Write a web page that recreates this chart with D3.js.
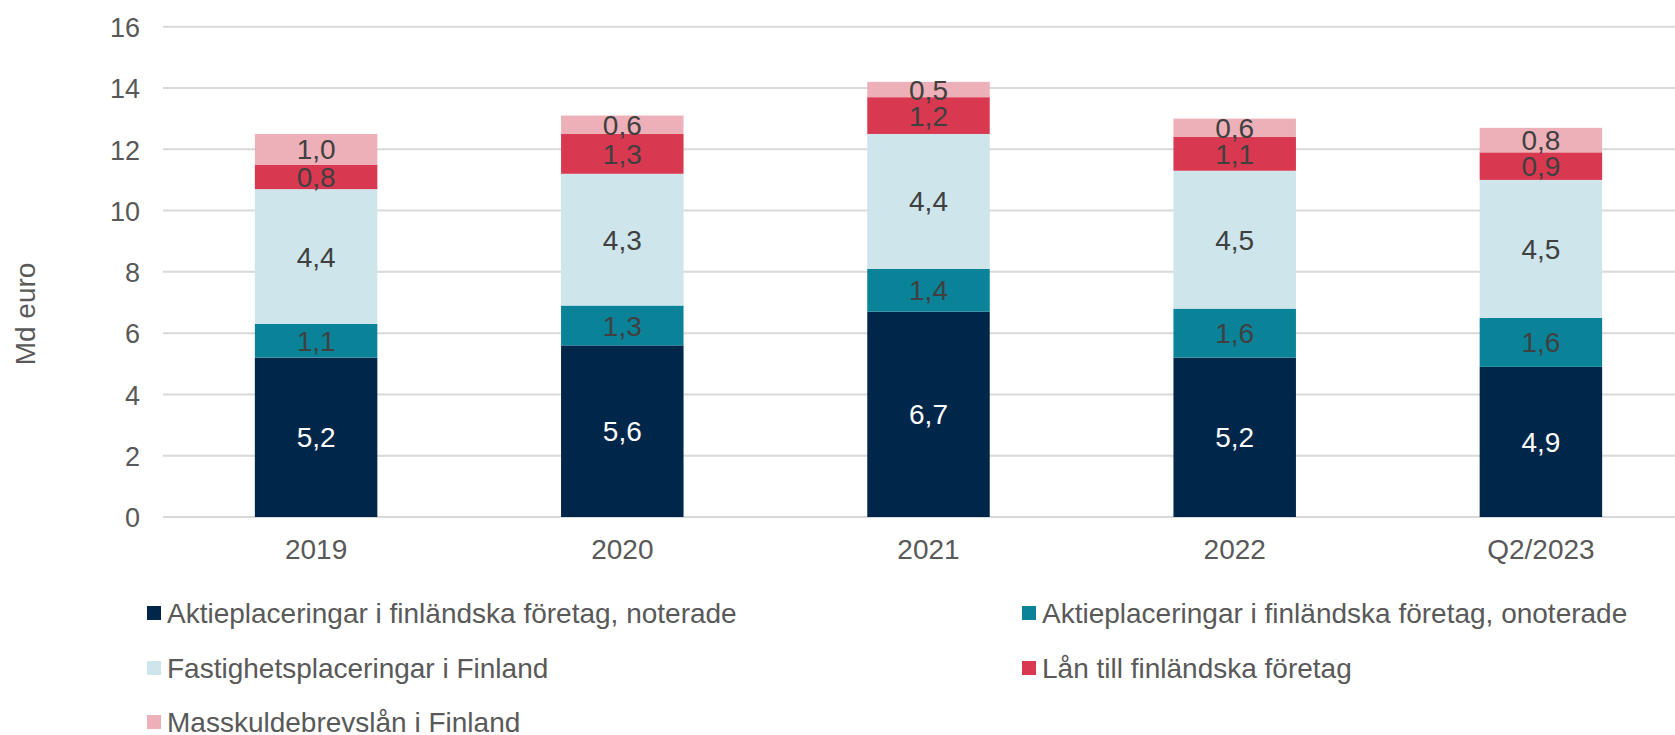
<!DOCTYPE html>
<html>
<head>
<meta charset="utf-8">
<script src="https://cdn.jsdelivr.net/npm/d3@7"></script>
<style>
  html, body { margin: 0; padding: 0; background: #ffffff; }
  svg { display: block; font-family: "Liberation Sans", Arial, sans-serif; }
</style>
</head>
<body>
<svg id="chart" width="1675" height="735"></svg>
<script>
// Categories (x axis)
const categories = ["2019", "2020", "2021", "2022", "Q2/2023"];

// Series values, Md euro
const noterade   = [5.2, 5.6, 6.7, 5.2, 4.9];
const onoterade  = [1.1, 1.3, 1.4, 1.6, 1.6];
const fastighet  = [4.4, 4.3, 4.4, 4.5, 4.5];
const lan        = [0.8, 1.3, 1.2, 1.1, 0.9];
const masskuld   = [1.0, 0.6, 0.5, 0.6, 0.8];

const seriesNames = [
  "Aktieplaceringar i finländska företag, noterade",
  "Aktieplaceringar i finländska företag, onoterade",
  "Fastighetsplaceringar i Finland",
  "Lån till finländska företag",
  "Masskuldebrevslån i Finland"
];
const seriesColors = ["#002649", "#0A8399", "#CDE5EB", "#D93950", "#EEB0B8"];
const labelColors  = ["#ffffff", "#404040", "#404040", "#404040", "#404040"];

// Y axis ticks
const yTicks = [0, 2, 4, 6, 8, 10, 12, 14, 16];
const yTitle = "Md euro";

const seriesValues = [noterade, onoterade, fastighet, lan, masskuld];
const keys = seriesNames;
const rows = categories.map((c, i) => {
  const r = { category: c };
  keys.forEach((k, j) => { r[k] = seriesValues[j][i]; });
  return r;
});

const svg = d3.select("#chart");
const W = 1675;

const x = d3.scaleBand()
  .domain(categories)
  .range([163, 1694])
  .paddingInner(0.6)
  .paddingOuter(0.3);

const y = d3.scaleLinear().domain([0, 16]).range([517, 26.7]);

const fi = d3.formatLocale({ decimal: ",", thousands: " ", grouping: [3], currency: ["", " €"] });
const fmt = fi.format(".1f");

// Gridlines
svg.append("g")
  .selectAll("line")
  .data(yTicks)
  .join("line")
  .attr("x1", 163)
  .attr("x2", W)
  .attr("y1", d => y(d))
  .attr("y2", d => y(d))
  .attr("stroke", "#d9d9d9")
  .attr("stroke-width", 2);

// Y axis labels
const yAxis = d3.axisLeft(y).tickValues(yTicks).tickSize(0).tickPadding(0).tickFormat(d3.format("d"));
const gy = svg.append("g").attr("transform", "translate(140,0)").call(yAxis);
gy.select(".domain").remove();
gy.selectAll("text")
  .attr("fill", "#595959")
  .attr("font-size", 27)
  .attr("font-family", "Liberation Sans, Arial, sans-serif")
  .attr("dy", "0.36em");

// Y title
svg.append("text")
  .attr("transform", "translate(35,314) rotate(-90)")
  .attr("text-anchor", "middle")
  .attr("fill", "#595959")
  .attr("font-size", 28)
  .text(yTitle);

// X axis labels
const xAxis = d3.axisBottom(x).tickSize(0).tickPadding(0);
const gx = svg.append("g").attr("transform", "translate(0,549)").call(xAxis);
gx.select(".domain").remove();
gx.selectAll("text")
  .attr("fill", "#595959")
  .attr("font-size", 28)
  .attr("font-family", "Liberation Sans, Arial, sans-serif")
  .attr("dy", "0.36em");

// Stacked bars
const stacked = d3.stack().keys(keys)(rows);

const layers = svg.append("g")
  .selectAll("g")
  .data(stacked)
  .join("g")
  .attr("fill", (d, i) => seriesColors[i]);

layers.selectAll("rect")
  .data(d => d)
  .join("rect")
  .attr("x", d => x(d.data.category))
  .attr("width", x.bandwidth())
  .attr("y", d => y(d[1]))
  .attr("height", d => y(d[0]) - y(d[1]));

// Value labels
const labelLayers = svg.append("g")
  .selectAll("g")
  .data(stacked)
  .join("g")
  .attr("fill", (d, i) => labelColors[i]);

labelLayers.selectAll("text")
  .data(d => d.map(p => ({ p, key: d.key })))
  .join("text")
  .attr("x", d => x(d.p.data.category) + x.bandwidth() / 2)
  .attr("y", d => (y(d.p[0]) + y(d.p[1])) / 2)
  .attr("dy", "0.36em")
  .attr("text-anchor", "middle")
  .attr("font-size", 28)
  .text(d => fmt(d.p.data[d.key]));

// Legend
const legendPos = [
  { x: 147, y: 613 },
  { x: 1022, y: 613 },
  { x: 147, y: 668 },
  { x: 1022, y: 668 },
  { x: 147, y: 722 }
];
const legend = svg.append("g")
  .selectAll("g")
  .data(seriesNames)
  .join("g")
  .attr("transform", (d, i) => `translate(${legendPos[i].x},${legendPos[i].y})`);

legend.append("rect")
  .attr("x", 0)
  .attr("y", -7)
  .attr("width", 14)
  .attr("height", 14)
  .attr("fill", (d, i) => seriesColors[i]);

legend.append("text")
  .attr("x", 20)
  .attr("dy", "0.36em")
  .attr("fill", "#595959")
  .attr("font-size", 28)
  .text(d => d);
</script>
</body>
</html>
